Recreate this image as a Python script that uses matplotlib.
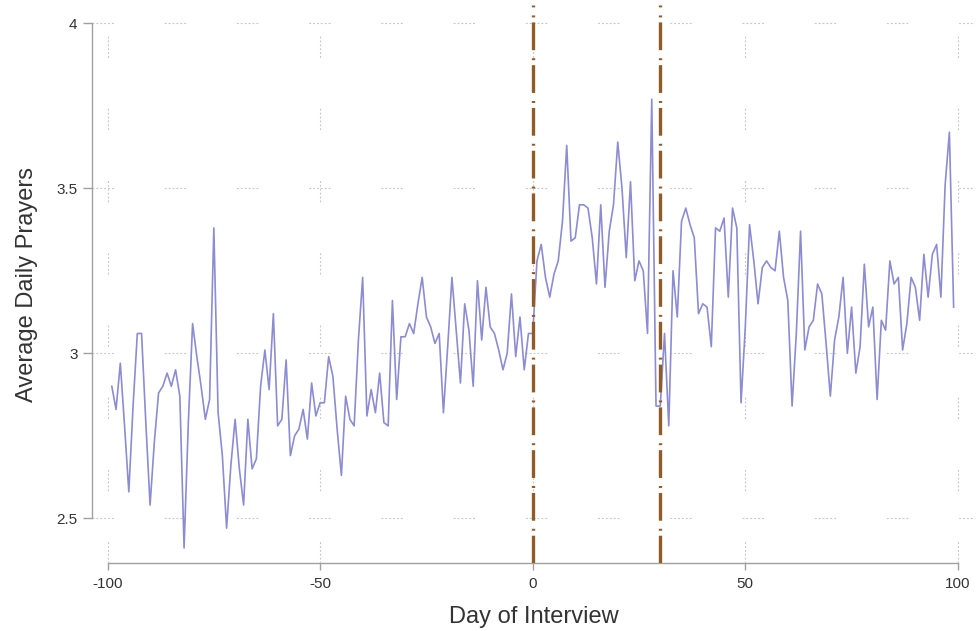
import numpy as np
import matplotlib.pyplot as plt

plt.rcParams['font.family'] = ['Liberation Sans', 'DejaVu Sans']
plt.rcParams['lines.scale_dashes'] = False
plt.rcParams['axes.unicode_minus'] = False

days = np.arange(-99, 100)

prayers_pre = [
    2.90, 2.83, 2.97, 2.78, 2.58, 2.84, 3.06, 3.06, 2.79, 2.54,   # -99..-90
    2.73, 2.88, 2.90, 2.94, 2.90, 2.95, 2.87, 2.41, 2.79, 3.09,   # -89..-80
    2.99, 2.90, 2.80, 2.86, 3.38, 2.82, 2.69, 2.47, 2.66, 2.80,   # -79..-70
    2.65, 2.54, 2.80, 2.65, 2.68, 2.90, 3.01, 2.89, 3.12, 2.78,   # -69..-60
    2.80, 2.98, 2.69, 2.75, 2.77, 2.83, 2.74, 2.91, 2.81, 2.85,   # -59..-50
    2.85, 2.99, 2.93, 2.77, 2.63, 2.87, 2.80, 2.78, 3.04, 3.23,   # -49..-40
    2.81, 2.89, 2.82, 2.94, 2.79, 2.78, 3.16, 2.86, 3.05, 3.05,   # -39..-30
    3.09, 3.06, 3.15, 3.23, 3.11, 3.08, 3.03, 3.06, 2.82, 3.02,   # -29..-20
    3.23, 3.07, 2.91, 3.15, 3.07, 2.90, 3.22, 3.04, 3.20, 3.08,   # -19..-10
    3.06, 3.01, 2.95, 3.00, 3.18, 2.99, 3.11, 2.95, 3.06,         # -9..-1
]
prayers_post = [
    3.06, 3.28, 3.33, 3.23, 3.17, 3.24, 3.28, 3.40, 3.63, 3.34,   # 0..9
    3.35, 3.45, 3.45, 3.44, 3.35, 3.21, 3.45, 3.20, 3.37, 3.45,   # 10..19
    3.64, 3.50, 3.29, 3.52, 3.22, 3.28, 3.25, 3.06, 3.77, 2.84,   # 20..29
    2.84, 3.06, 2.78, 3.25, 3.11, 3.40, 3.44, 3.39, 3.35, 3.12,   # 30..39
    3.15, 3.14, 3.02, 3.38, 3.37, 3.41, 3.17, 3.44, 3.38, 2.85,   # 40..49
    3.08, 3.39, 3.28, 3.15, 3.26, 3.28, 3.26, 3.25, 3.37, 3.23,   # 50..59
    3.16, 2.84, 3.06, 3.37, 3.01, 3.08, 3.10, 3.21, 3.18, 3.03,   # 60..69
    2.87, 3.04, 3.11, 3.23, 3.00, 3.14, 2.94, 3.02, 3.27, 3.08,   # 70..79
    3.14, 2.86, 3.10, 3.07, 3.28, 3.21, 3.23, 3.01, 3.09, 3.23,   # 80..89
    3.20, 3.10, 3.30, 3.17, 3.30, 3.33, 3.17, 3.51, 3.67, 3.14,   # 90..99
]
prayers = np.array(prayers_pre + prayers_post)

event_days = [0, 30]
xticks = [-100, -50, 0, 50, 100]
yticks = [2.5, 3, 3.5, 4]
ytick_labels = ['2.5', '3', '3.5', '4']

fig = plt.figure(figsize=(9.76, 6.31), dpi=100)
ax = fig.add_axes([0.0943, 0.1078, 0.905, 0.884])

# stata-like broken grid
grid_dash = (0, [1.4, 1.4] * 5 + [1.4, 36.6])
ax.set_xticks(xticks)
ax.set_yticks(yticks)
ax.set_yticklabels(ytick_labels)
ax.grid(True, color='#c8c8c8', linewidth=0.8, linestyle=grid_dash)
ax.set_axisbelow(True)

ax.plot(days, prayers, color='#8c8cd2', linewidth=1.2, zorder=3)

for d in event_days:
    ax.axvline(d, color='#8f5c28', linewidth=2.4,
               linestyle=(0, (20, 3.6, 1.4, 5.8)), zorder=4)

ax.set_xlim(-103.65, 104.1)
ax.set_ylim(2.3645, 4.055)

for side in ['top', 'right']:
    ax.spines[side].set_visible(False)
for side in ['left', 'bottom']:
    ax.spines[side].set_color('#a0a0a0')
    ax.spines[side].set_linewidth(1.0)
ax.spines['left'].set_bounds(2.5, 4)
ax.spines['bottom'].set_bounds(-100, 100)

ax.tick_params(axis='both', colors='#a0a0a0', labelcolor='#333333',
               labelsize=11, width=1.0)
ax.tick_params(axis='y', length=6.5, pad=4)
ax.tick_params(axis='x', length=5, pad=5)

ax.set_xlabel('Day of Interview', fontsize=17, color='#333333', labelpad=11)
ax.set_ylabel('Average Daily Prayers', fontsize=17, color='#333333', labelpad=13.5)

fig.savefig('out.png', dpi=100)
